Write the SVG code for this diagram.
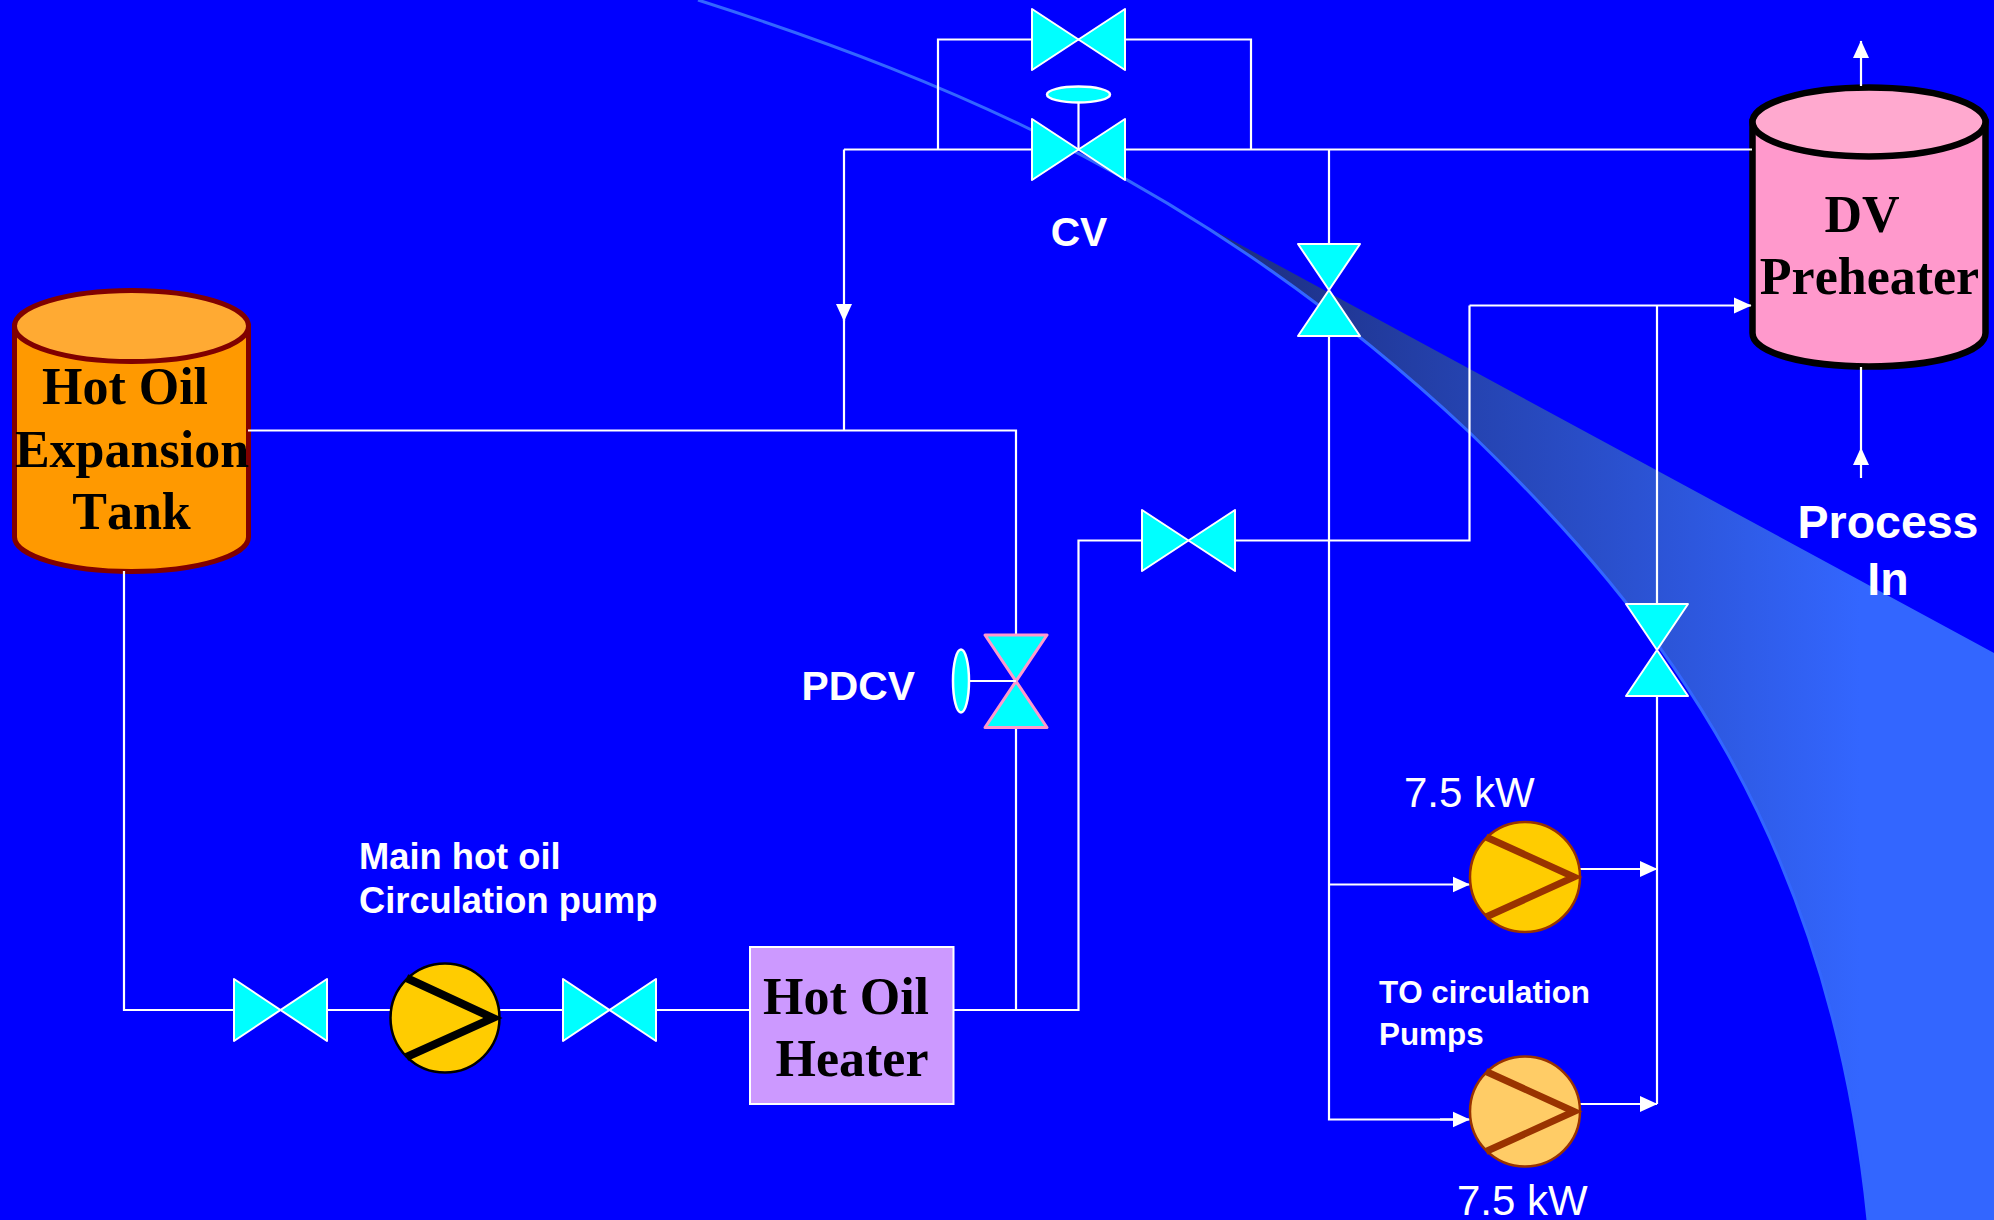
<svg xmlns="http://www.w3.org/2000/svg" width="1994" height="1220" viewBox="0 0 1994 1220">
<style>
text{font-kerning:none}
.pipe{fill:none;stroke:#fff;stroke-width:2.2}
.v{fill:#0ff;stroke:#fff;stroke-width:2;stroke-linejoin:round}
.vp{fill:#0ff;stroke:#f9c;stroke-width:3;stroke-linejoin:round}
.act{fill:#0ff;stroke:#fff;stroke-width:2.5}
.serif{font-family:"Liberation Serif","Times New Roman",serif;font-weight:bold;font-size:52px;fill:#000}
.sans{font-family:"Liberation Sans",Arial,sans-serif;fill:#fff}
.b40{font-size:40.8px;font-weight:bold}
.b46{font-size:46.5px;font-weight:bold}
.b36{font-size:36.3px;font-weight:bold}
.b31{font-size:31.4px;font-weight:bold}
.n41{font-size:42px}
.m{text-anchor:middle}
.imp{fill:none;stroke:#930;stroke-width:7;stroke-linejoin:miter}
</style>
<defs>
<linearGradient id="wedge" gradientUnits="userSpaceOnUse" x1="1190" y1="0" x2="1860" y2="0">
<stop offset="0" stop-color="#1b2a78"/>
<stop offset="1" stop-color="#3366ff"/>
</linearGradient>
<marker id="arrow" markerUnits="userSpaceOnUse" markerWidth="18" markerHeight="18" viewBox="0 0 18 18" refX="17" refY="9" orient="auto">
<path d="M0,1L17.500,9L0,17Z" fill="#fff"/>
</marker>
</defs>
<rect id="background" width="1994" height="1220" fill="#00f"/>
<g id="swoosh">
<path d="M1194.600,220C1285.700,276.900 1376.800,345.400 1468,431C1665,620 1830,840 1868,1220L1994,1220L1994,653Z" fill="url(#wedge)"/>
<path d="M698,0C955,82 1211,190 1468,431C1665,620 1830,840 1868,1220" fill="none" stroke="#3366ff" stroke-width="3"/>
</g>
<g id="tank">
<path d="M14.500,326V537C14.500,556 67,571.500 131.500,571.500S248.500,556 248.500,537V326Z" fill="#f90" stroke="#800000" stroke-width="5"/>
<ellipse cx="131.500" cy="326" rx="117" ry="35.500" fill="#fa3" stroke="#800000" stroke-width="5"/>
<text class="serif" x="125" y="404" text-anchor="middle">Hot Oil</text>
<text class="serif" x="132" y="467" text-anchor="middle">Expansion</text>
<text class="serif" x="131.500" y="529" text-anchor="middle">Tank</text>
</g>
<g id="preheater">
<path d="M1752.500,122V333C1752.500,353 1805,366.500 1869,366.500S1985.500,353 1985.500,333V122Z" fill="#f9c" stroke="#000" stroke-width="6.500"/>
<ellipse cx="1869" cy="122" rx="116.500" ry="34.500" fill="#ffa9cf" stroke="#000" stroke-width="6.500"/>
<text class="serif" x="1862" y="232" text-anchor="middle">DV</text>
<text class="serif" x="1869.500" y="294" text-anchor="middle">Preheater</text>
</g>
<g id="connectors" class="pipe">
<path d="M844,149.500H1752"/>
<path d="M938,149.500V39.500H1251V149.500"/>
<path d="M1329,149.500V243"/>
<path d="M1329,337V1119.500H1454"/>
<path d="M1329,884.500H1469.500" marker-end="url(#arrow)"/>
<path d="M1440,1119.500H1469.500" marker-end="url(#arrow)"/>
<path d="M248,430.500H1016V634"/>
<path d="M844,430.500V312"/>
<path d="M844,149.500V321" marker-end="url(#arrow)"/>
<path d="M1016,728V1010"/>
<path d="M124,571V1010H233"/>
<path d="M328,1010H390"/>
<path d="M500,1010H562"/>
<path d="M657,1010H750"/>
<path d="M954,1010H1078.500V540.500H1141"/>
<path d="M1236,540.500H1469.500V305.500"/>
<path d="M1469.500,305.500H1751" marker-end="url(#arrow)"/>
<path d="M1657,305.500V603"/>
<path d="M1657,697V1104"/>
<path d="M1580,869H1657" marker-end="url(#arrow)"/>
<path d="M1580,1104H1657" marker-end="url(#arrow)"/>
<path d="M1861,86V41" marker-end="url(#arrow)"/>
<path d="M1861,367V448"/>
<path d="M1861,478V448" marker-end="url(#arrow)"/>
</g>
<g id="heater">
<rect x="750" y="947" width="203.500" height="157" fill="#c9f" stroke="#fff" stroke-width="2"/>
<text class="serif" x="846" y="1014" text-anchor="middle">Hot Oil</text>
<text class="serif" x="852" y="1076" text-anchor="middle">Heater</text>
</g>
<g id="valve-bypass"><polygon class="v" points="1032,9 1125,70 1125,9 1032,70"/></g>
<g id="valve-cv">
<polygon class="v" points="1032,119 1125,180 1125,119 1032,180"/>
<path class="pipe" d="M1078.500,102V149.500"/>
<ellipse class="act" cx="1078.500" cy="94.500" rx="31.500" ry="8"/>
<text class="sans b40 m" x="1079" y="246">CV</text>
</g>
<g id="valve-vert-1"><polygon class="v" points="1298,244 1360,336 1298,336 1360,244"/></g>
<g id="valve-vert-2"><polygon class="v" points="1626,604 1688,696 1626,696 1688,604"/></g>
<g id="valve-mid"><polygon class="v" points="1142,510 1235,571 1235,510 1142,571"/></g>
<g id="valve-pdcv">
<polygon class="vp" points="985,635 1047,727.500 985,727.500 1047,635"/>
<path class="pipe" d="M969,681H1016"/>
<ellipse class="act" cx="961" cy="681" rx="8" ry="31.500"/>
<text class="sans b40" x="801.500" y="699.500">PDCV</text>
</g>
<g id="valve-left"><polygon class="v" points="234,979 327,1041 327,979 234,1041"/></g>
<g id="valve-right"><polygon class="v" points="563,979 656,1041 656,979 563,1041"/></g>
<g id="main-pump">
<circle cx="445" cy="1018" r="54.500" fill="#fc0" stroke="#000" stroke-width="2.500"/>
<path d="M406.500,978L493,1018L406.500,1057" fill="none" stroke="#000" stroke-width="8"/>
<text class="sans b36" x="359" y="869">Main hot oil</text>
<text class="sans b36" x="359" y="913">Circulation pump</text>
</g>
<g id="pump-a">
<circle cx="1525" cy="877" r="55" fill="#fc0" stroke="#930" stroke-width="2.500"/>
<path class="imp" d="M1486,837L1574,877L1486,917"/>
<text class="sans n41" x="1404" y="807">7.5 kW</text>
</g>
<g id="pump-b">
<circle cx="1525" cy="1111.500" r="55" fill="#fc6" stroke="#930" stroke-width="2.500"/>
<path class="imp" d="M1486,1071.500L1574,1111.500L1486,1151.500"/>
<text class="sans n41" x="1457" y="1215">7.5 kW</text>
</g>
<g id="labels">
<text class="sans b31" x="1379" y="1003">TO circulation</text>
<text class="sans b31" x="1379" y="1045">Pumps</text>
<text class="sans b46 m" x="1888" y="538">Process</text>
<text class="sans b46 m" x="1888" y="595">In</text>
</g>
</svg>
